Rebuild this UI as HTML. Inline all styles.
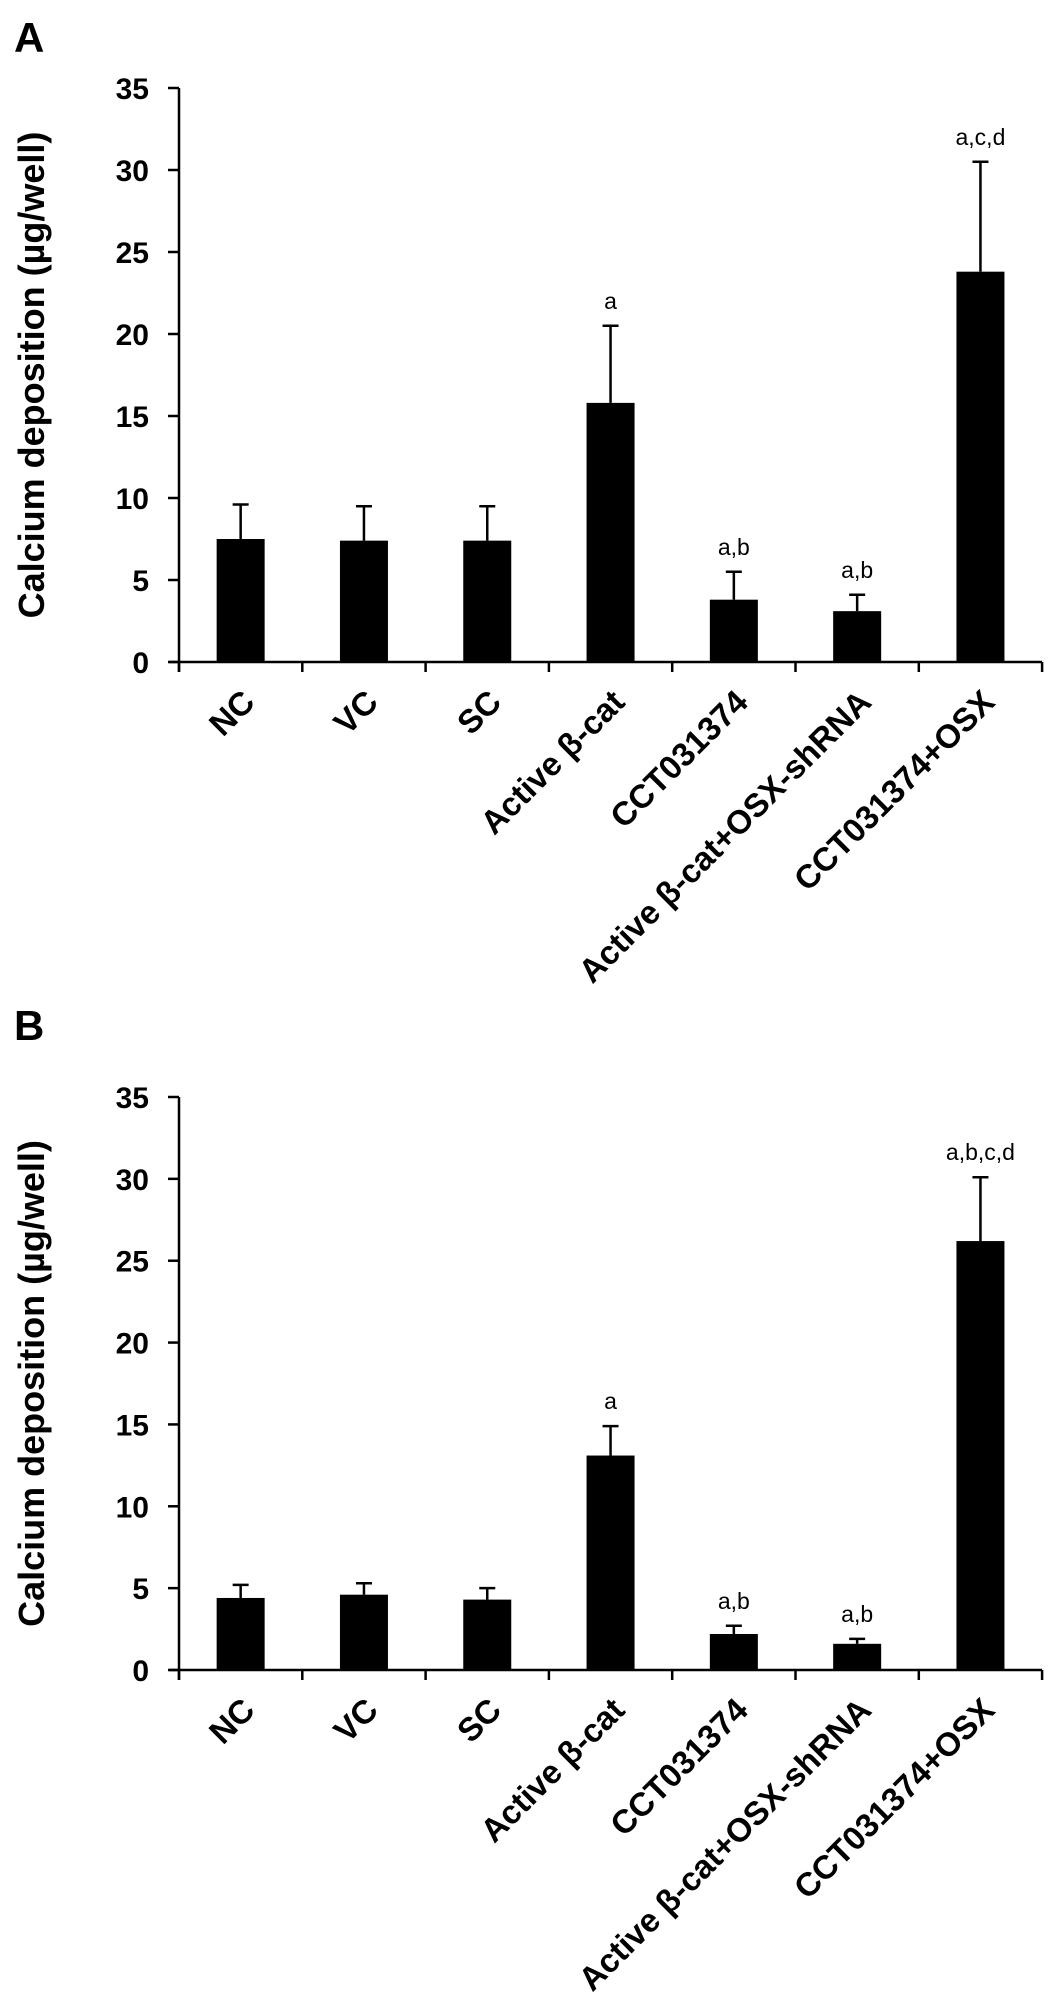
<!DOCTYPE html>
<html><head><meta charset="utf-8">
<style>
html,body{margin:0;padding:0;background:#fff;}
svg{display:block;font-family:"Liberation Sans",Arial,sans-serif;}
</style></head>
<body>
<svg id="fig" width="1063" height="2016" viewBox="0 0 1063 2016">
<text x="14" y="52" font-size="42" font-weight="bold">A</text>
<text x="14" y="1040" font-size="42" font-weight="bold">B</text>
<g id="chartA"></g>
<g id="chartB"></g>
</svg>
<script>
const categories = ["NC","VC","SC","Active β-cat","CCT031374","Active β-cat+OSX-shRNA","CCT031374+OSX"];
const yTicks = [0,5,10,15,20,25,30,35];
const meansA = [7.5,7.4,7.4,15.8,3.8,3.1,23.8];
const errTopA = [9.6,9.5,9.5,20.5,5.5,4.1,30.5];
const annotA = ["","","","a","a,b","a,b","a,c,d"];
const meansB = [4.4,4.6,4.3,13.1,2.2,1.6,26.2];
const errTopB = [5.2,5.3,5.0,14.9,2.7,1.9,30.1];
const annotB = ["","","","a","a,b","a,b","a,b,c,d"];

const NS="http://www.w3.org/2000/svg";
function mk(tag, attrs, parent){const e=document.createElementNS(NS,tag);for(const k in attrs)e.setAttribute(k,attrs[k]);parent.appendChild(e);return e;}

function drawChart(g, means, errs, annots, y0px, y35px){
  const x0=179, band=123.3, barW=48;
  const y=v=>y0px-(y0px-y35px)*v/35;
  const xc=i=>x0+band*(i+0.5);
  const yAxis=mk('line',{x1:x0,y1:y(35),x2:x0,y2:y0px+10,stroke:'#000','stroke-width':2.5},g);
  
  
  const xAxis=mk('line',{x1:x0-10,y1:y0px,x2:x0+band*7,y2:y0px,stroke:'#000','stroke-width':2.5},g);
  
  
  yTicks.forEach(t=>{
    const tk=mk('line',{x1:x0-11,y1:y(t),x2:x0,y2:y(t),stroke:'#000','stroke-width':2.5},g);
    
    
    const lb=mk('text',{x:x0-30,y:y(t)+11,'font-size':30,'font-weight':'bold','text-anchor':'end'},g);
    lb.textContent=t;
    
    
  });
  for(let k=0;k<=7;k++){
    const tk=mk('line',{x1:x0+band*k,y1:y0px,x2:x0+band*k,y2:y0px+10,stroke:'#000','stroke-width':2.5},g);
    
    
  }
  const title=mk('text',{x:0,y:0,'font-size':36,'font-weight':'bold','text-anchor':'middle',transform:`translate(44,${(y0px+y(35))/2}) rotate(-90)`},g);
  title.textContent='Calcium deposition (µg/well)';
  
  
  categories.forEach((c,i)=>{
    const cx=xc(i);
    const bar=mk('rect',{x:cx-barW/2,y:y(means[i]),width:barW,height:y0px-y(means[i]),fill:'#000'},g);
    
    
    const el=mk('line',{x1:cx,y1:y(means[i]),x2:cx,y2:y(errs[i]),stroke:'#000','stroke-width':2.5},g);
    
    
    const cap=mk('line',{x1:cx-8,y1:y(errs[i]),x2:cx+8,y2:y(errs[i]),stroke:'#000','stroke-width':2.5},g);
    
    
    if(annots[i]){
      const a=mk('text',{x:cx,y:y(errs[i])-17,'font-size':23,'text-anchor':'middle'},g);
      a.textContent=annots[i];
      
      
    }
    const lx=cx+16, ly=y0px+42;
    const lb=mk('text',{x:lx,y:ly,'font-size':33,'font-weight':'bold','text-anchor':'end',transform:`rotate(-45 ${lx} ${ly})`},g);
    lb.textContent=c;
    
    
  });
}
drawChart(document.getElementById('chartA'),meansA,errTopA,annotA,662,88);
drawChart(document.getElementById('chartB'),meansB,errTopB,annotB,1670,1097);
</script>
</body></html>
